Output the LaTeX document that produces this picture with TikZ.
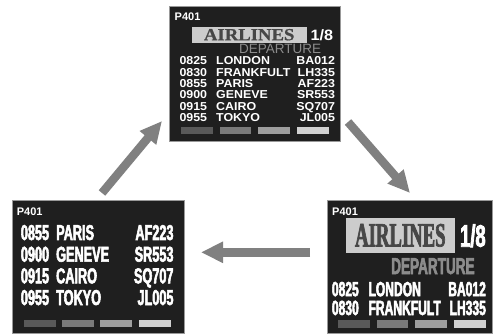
\documentclass[tikz,border=0pt]{standalone}
\usepackage{fontspec}
\setmainfont{Liberation Sans}
\newfontfamily\widesans[FakeStretch=1.08]{Liberation Sans}
\newfontfamily\narrowsans[FakeStretch=0.59, FakeBold=2.5]{Liberation Sans}
\newfontfamily\wideserif[FakeStretch=1.1, FakeBold=0.8]{Liberation Serif}
\newfontfamily\narrowserif[FakeStretch=0.55, FakeBold=2]{Liberation Serif}
\usetikzlibrary{arrows.meta, calc}

% one line of the board: time | city ...... flight
\newcommand{\flight}[5]{\makebox[#1][l]{#3}\makebox[#2][l]{#4\hfill#5}}

\begin{document}
\begin{tikzpicture}[
  x=1pt, y=-1pt,
  board/.style={
    draw=black!40, fill=black!88, line width=0.8pt,
    inner sep=0pt, outer sep=0pt
  },
  gate/.style={
    font={\bfseries\fontsize{11}{11}\selectfont}, text=white,
    anchor=base west, inner sep=0pt
  },
  wrow/.style={
    font={\widesans\bfseries\fontsize{11.5}{11.5}\selectfont}, text=white,
    anchor=base west, inner sep=0pt, text height=8.2pt, text depth=0pt
  },
  nrow/.style={
    font={\narrowsans\bfseries\fontsize{21.5}{21.5}\selectfont}, text=white,
    anchor=base west, inner sep=0pt, text height=15.4pt, text depth=0pt
  },
  logo/.style={fill=black!20, inner sep=0pt, text=black!72},
  arr/.style={-{Triangle[length=22pt, width=20pt]}, line width=8.5pt, color=black!50},
]
\useasboundingbox (0,0) rectangle (493,334);

% ===== Boards =====
\node[board, minimum width=171pt, minimum height=135pt] (ptop) at (255,74) {};
\node[board, minimum width=172pt, minimum height=133pt] (pleft) at (98,267) {};
\node[board, minimum width=165.5pt, minimum height=133pt] (pright) at (409.75,267) {};

% ===== Top board =====
\node[gate] (gtop) at (174.5,20.7) {P401};
\node[logo, minimum width=115pt, minimum height=16pt,
      font={\wideserif\bfseries\fontsize{17}{17}\selectfont}] (atop) at (249.2,34.7) {AIRLINES};
\node[wrow, text height=10.8pt, font={\widesans\bfseries\fontsize{15}{15}\selectfont}] (ntop) at (310.5,41) {1/8};
\node[anchor=base west, inner sep=0pt, text=black!45, text depth=0pt,
      font={\fontsize{13.5}{13.5}\selectfont}] (dtop) at (239,54) {DEPARTURE};

\node[wrow] (t1) at (179.3,65)    {\flight{36.7pt}{118.8pt}{0825}{LONDON}{BA012}};
\node[wrow] (t2) at (179.3,76.3)  {\flight{36.7pt}{118.8pt}{0830}{FRANKFULT}{LH335}};
\node[wrow] (t3) at (179.3,87.6)  {\flight{36.7pt}{118.8pt}{0855}{PARIS}{AF223}};
\node[wrow] (t4) at (179.3,98.9)  {\flight{36.7pt}{118.8pt}{0900}{GENEVE}{SR553}};
\node[wrow] (t5) at (179.3,110.2) {\flight{36.7pt}{118.8pt}{0915}{CAIRO}{SQ707}};
\node[wrow] (t6) at (179.3,121.5) {\flight{36.7pt}{118.8pt}{0955}{TOKYO}{JL005}};

\fill[black!65] (181.2,127) rectangle +(31.5,7);
\fill[black!52] (219.5,127) rectangle +(31.5,7);
\fill[black!38] (258.2,127) rectangle +(31.5,7);
\fill[black!18] (297,127) rectangle +(31.5,7);

% ===== Left board =====
\node[gate] (gleft) at (16.7,215) {P401};
\node[nrow] (l1) at (20.7,240)   {\flight{35.3pt}{117.3pt}{0855}{PARIS}{AF223}};
\node[nrow] (l2) at (20.7,261.7) {\flight{35.3pt}{117.3pt}{0900}{GENEVE}{SR553}};
\node[nrow] (l3) at (20.7,283.3) {\flight{35.3pt}{117.3pt}{0915}{CAIRO}{SQ707}};
\node[nrow] (l4) at (20.7,305)   {\flight{35.3pt}{117.3pt}{0955}{TOKYO}{JL005}};

\fill[black!65] (24,320) rectangle +(31.5,7.3);
\fill[black!52] (62,320) rectangle +(31.5,7.3);
\fill[black!38] (100.3,320) rectangle +(31.5,7.3);
\fill[black!18] (139.3,320) rectangle +(31.5,7.3);

% ===== Right board =====
\node[gate] (gright) at (332,215) {P401};
\node[logo, minimum width=109.3pt, minimum height=34.7pt,
      font={\narrowserif\bfseries\fontsize{34}{34}\selectfont}] (aright) at (400.35,235.35) {AIRLINES};
\node[nrow, text height=22.2pt, font={\narrowsans\bfseries\fontsize{31}{31}\selectfont}] (nright) at (460,246.7) {1/8};
\node[nrow, text=black!45, text height=16.5pt, font={\narrowsans\bfseries\fontsize{23}{23}\selectfont}] (dright) at (391,274) {DEPARTURE};
\node[nrow, text height=14.6pt, font={\narrowsans\bfseries\fontsize{20.5}{20.5}\selectfont}] (r1) at (331.7,296.2)
  {\flight{36.6pt}{117.4pt}{0825}{LONDON}{BA012}};
\node[nrow, text height=14.6pt, font={\narrowsans\bfseries\fontsize{20.5}{20.5}\selectfont}] (r2) at (331.7,315)
  {\flight{36.6pt}{117.4pt}{0830}{FRANKFULT}{LH335}};

\fill[black!65] (338.3,320) rectangle +(31.5,7.5);
\fill[black!52] (376.7,320) rectangle +(31.5,7.5);
\fill[black!38] (415,320) rectangle +(31.5,7.5);
\fill[black!18] (454.3,320) rectangle +(31.5,7.5);

% ===== Arrows =====
\coordinate (up0) at (102,193);
\coordinate (up1) at (162,121);
\coordinate (dn0) at (348,122);
\coordinate (dn1) at (410,193);
\coordinate (bk0) at (310,252.3);
\coordinate (bk1) at (201,252.3);
\draw[arr] (up0) -- (up1);
\draw[arr] (dn0) -- (dn1);
\draw[arr] (bk0) -- (bk1);

\end{tikzpicture}
\end{document}
